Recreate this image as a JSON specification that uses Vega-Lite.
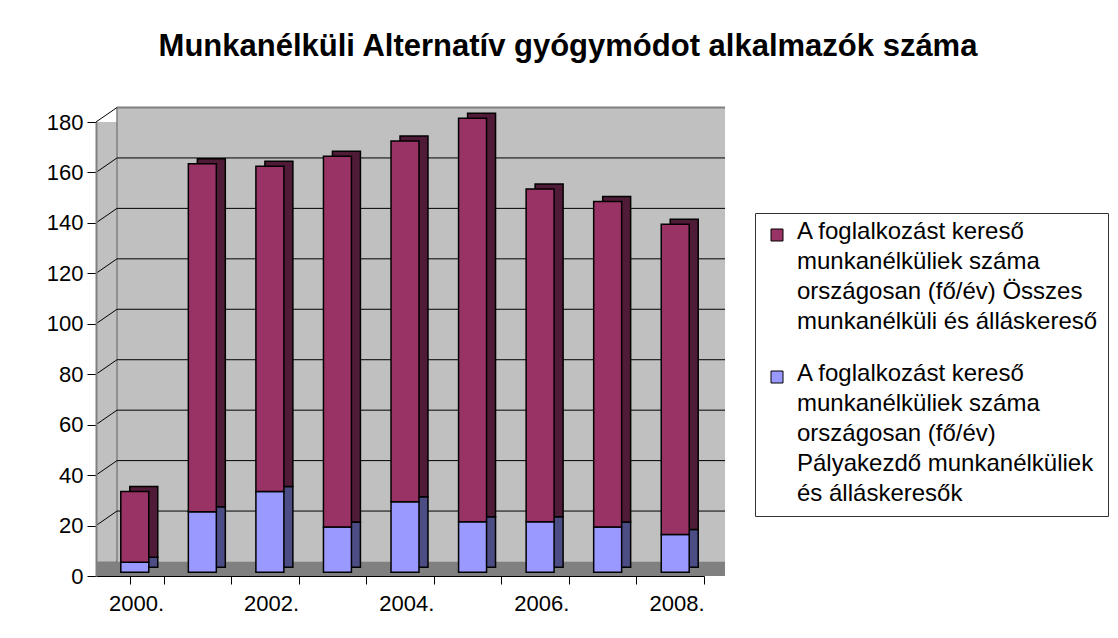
{
  "$schema": "https://vega.github.io/schema/vega-lite/v6.json",
  "width": 608,
  "height": 454,
  "autosize": {"type": "none"},
  "padding": {"left": 96, "top": 122, "right": 414, "bottom": 62},
  "background": "white",
  "config": {"font": "Liberation Sans", "view": {"stroke": null}},
  "title": {
    "text": "Munkanélküli Alternatív gyógymódot alkalmazók száma",
    "fontSize": 31,
    "fontWeight": "bold",
    "color": "#000000",
    "anchor": "middle",
    "frame": "group",
    "dx": 168,
    "offset": 44
  },
  "datasets": {
    "bars": [
      {"ev": "2000.", "series": "A foglalkozást kereső munkanélküliek száma országosan (fő/év) Pályakezdő munkanélküliek és álláskeresők", "value": 4},
      {"ev": "2000.", "series": "A foglalkozást kereső munkanélküliek száma országosan (fő/év) Összes munkanélküli és álláskereső", "value": 28},
      {"ev": "2001.", "series": "A foglalkozást kereső munkanélküliek száma országosan (fő/év) Pályakezdő munkanélküliek és álláskeresők", "value": 24},
      {"ev": "2001.", "series": "A foglalkozást kereső munkanélküliek száma országosan (fő/év) Összes munkanélküli és álláskereső", "value": 138},
      {"ev": "2002.", "series": "A foglalkozást kereső munkanélküliek száma országosan (fő/év) Pályakezdő munkanélküliek és álláskeresők", "value": 32},
      {"ev": "2002.", "series": "A foglalkozást kereső munkanélküliek száma országosan (fő/év) Összes munkanélküli és álláskereső", "value": 129},
      {"ev": "2003.", "series": "A foglalkozást kereső munkanélküliek száma országosan (fő/év) Pályakezdő munkanélküliek és álláskeresők", "value": 18},
      {"ev": "2003.", "series": "A foglalkozást kereső munkanélküliek száma országosan (fő/év) Összes munkanélküli és álláskereső", "value": 147},
      {"ev": "2004.", "series": "A foglalkozást kereső munkanélküliek száma országosan (fő/év) Pályakezdő munkanélküliek és álláskeresők", "value": 28},
      {"ev": "2004.", "series": "A foglalkozást kereső munkanélküliek száma országosan (fő/év) Összes munkanélküli és álláskereső", "value": 143},
      {"ev": "2005.", "series": "A foglalkozást kereső munkanélküliek száma országosan (fő/év) Pályakezdő munkanélküliek és álláskeresők", "value": 20},
      {"ev": "2005.", "series": "A foglalkozást kereső munkanélküliek száma országosan (fő/év) Összes munkanélküli és álláskereső", "value": 160},
      {"ev": "2006.", "series": "A foglalkozást kereső munkanélküliek száma országosan (fő/év) Pályakezdő munkanélküliek és álláskeresők", "value": 20},
      {"ev": "2006.", "series": "A foglalkozást kereső munkanélküliek száma országosan (fő/év) Összes munkanélküli és álláskereső", "value": 132},
      {"ev": "2007.", "series": "A foglalkozást kereső munkanélküliek száma országosan (fő/év) Pályakezdő munkanélküliek és álláskeresők", "value": 18},
      {"ev": "2007.", "series": "A foglalkozást kereső munkanélküliek száma országosan (fő/év) Összes munkanélküli és álláskereső", "value": 129},
      {"ev": "2008.", "series": "A foglalkozást kereső munkanélküliek száma országosan (fő/év) Pályakezdő munkanélküliek és álláskeresők", "value": 15},
      {"ev": "2008.", "series": "A foglalkozást kereső munkanélküliek száma országosan (fő/év) Összes munkanélküli és álláskereső", "value": 123}
    ],
    "grid": [{"v": 20}, {"v": 40}, {"v": 60}, {"v": 80}, {"v": 100}, {"v": 120}, {"v": 140}, {"v": 160}],
    "ticks": [{"v": 0}, {"v": 20}, {"v": 40}, {"v": 60}, {"v": 80}, {"v": 100}, {"v": 120}, {"v": 140}, {"v": 160}, {"v": 180}]
  },
  "layer": [
    {
      "data": {"values": [{}]},
      "mark": {"type": "rect", "fill": "#C0C0C0", "xOffset": 21, "x2Offset": 54.8, "yOffset": -14.5, "y2Offset": -14.5},
      "encoding": {
        "x": {"datum": "2000.", "type": "ordinal", "bandPosition": 0},
        "x2": {"datum": "2008."},
        "y": {"datum": 0, "type": "quantitative", "scale": {"domain": [0, 180], "nice": false, "zero": true}},
        "y2": {"datum": 180}
      }
    },
    {
      "data": {"values": [{}]},
      "mark": {"type": "rule", "color": "#C0C0C0", "strokeWidth": 21, "strokeCap": "butt", "xOffset": 10.5},
      "encoding": {
        "x": {"datum": "2000.", "type": "ordinal", "bandPosition": 0},
        "y": {"datum": 0, "type": "quantitative"},
        "y2": {"datum": 180}
      }
    },
    {
      "data": {"values": [{}]},
      "mark": {"type": "rule", "color": "#808080", "strokeWidth": 2, "xOffset": 21, "x2Offset": 54.8, "yOffset": -14.5, "y2Offset": -14.5},
      "encoding": {
        "x": {"datum": "2000.", "type": "ordinal", "bandPosition": 0},
        "x2": {"datum": "2008."},
        "y": {"datum": 180, "type": "quantitative"},
        "y2": {"datum": 180}
      }
    },
    {
      "data": {"values": [{}]},
      "mark": {"type": "rule", "color": "#808080", "strokeWidth": 1.5, "xOffset": 21, "yOffset": -14.5, "y2Offset": -14.5},
      "encoding": {
        "x": {"datum": "2000.", "type": "ordinal", "bandPosition": 0},
        "y": {"datum": 0, "type": "quantitative"},
        "y2": {"datum": 180}
      }
    },
    {
      "data": {"name": "grid"},
      "mark": {"type": "rule", "color": "#000000", "strokeWidth": 1, "xOffset": 21, "x2Offset": 54.8, "yOffset": -14.5, "y2Offset": -14.5},
      "encoding": {
        "x": {"datum": "2000.", "type": "ordinal", "bandPosition": 0},
        "x2": {"datum": "2008."},
        "y": {"field": "v", "type": "quantitative"},
        "y2": {"field": "v"}
      }
    },
    {
      "data": {"name": "ticks"},
      "mark": {"type": "rule", "color": "#000000", "strokeWidth": 1, "x2Offset": -12.78, "y2Offset": -14.5},
      "encoding": {
        "x": {"datum": "2000.", "type": "ordinal", "bandPosition": 0},
        "x2": {"datum": "2000."},
        "y": {"field": "v", "type": "quantitative"},
        "y2": {"field": "v"}
      }
    },
    {
      "data": {"values": [{}]},
      "mark": {"type": "rect", "fill": "#808080", "x2Offset": 54.8, "y2Offset": -14.5},
      "encoding": {
        "x": {"datum": "2000.", "type": "ordinal", "bandPosition": 0},
        "x2": {"datum": "2008."},
        "y": {"datum": 0, "type": "quantitative"},
        "y2": {"datum": 0}
      }
    },
    {
      "data": {"name": "bars"},
      "mark": {"type": "bar", "width": {"band": 0.414}, "stroke": "#000000", "strokeWidth": 1.5, "xOffset": 14, "yOffset": -8.7, "y2Offset": -8.7},
      "encoding": {
        "x": {"field": "ev", "type": "ordinal"},
        "y": {"field": "value", "type": "quantitative", "stack": "zero"},
        "detail": {"field": "series"},
        "order": {"field": "series", "sort": "ascending"},
        "fill": {
          "condition": {"test": "indexof(datum.series, 'Összes') >= 0", "value": "#4F1B36"},
          "value": "#4D4D85"
        }
      }
    },
    {
      "data": {"name": "bars"},
      "mark": {"type": "bar", "width": {"band": 0.414}, "stroke": "#000000", "strokeWidth": 1.5, "xOffset": 5, "yOffset": -3.7, "y2Offset": -3.7, "opacity": 1},
      "encoding": {
        "x": {
          "field": "ev",
          "type": "ordinal",
          "scale": {"paddingInner": 0, "paddingOuter": 0},
          "axis": {
            "title": null,
            "labelAngle": 0,
            "labelFontSize": 22,
            "labelColor": "#000000",
            "labelPadding": 19,
            "tickOffset": 33.78,
            "tickExtra": true,
            "tickSize": 8,
            "tickColor": "#000000",
            "domainColor": "#000000",
            "domainWidth": 1,
            "zindex": 1,
            "labelExpr": "indexof(['2000.', '2002.', '2004.', '2006.', '2008.'], datum.label) >= 0 ? datum.label : ''"
          }
        },
        "y": {
          "field": "value",
          "type": "quantitative",
          "stack": "zero",
          "axis": {
            "title": null,
            "values": [0, 20, 40, 60, 80, 100, 120, 140, 160, 180],
            "labelFontSize": 22,
            "labelColor": "#000000",
            "labelPadding": 4,
            "tickSize": 9,
            "tickColor": "#000000",
            "domainColor": "#808080",
            "domainWidth": 2,
            "grid": false,
            "zindex": 1
          }
        },
        "order": {"field": "series", "sort": "ascending"},
        "color": {
          "field": "series",
          "type": "nominal",
          "scale": {
            "domain": [
              "A foglalkozást kereső munkanélküliek száma országosan (fő/év) Összes munkanélküli és álláskereső",
              "A foglalkozást kereső munkanélküliek száma országosan (fő/év) Pályakezdő munkanélküliek és álláskeresők"
            ],
            "range": ["#993366", "#9999FF"]
          },
          "legend": {
            "title": null,
            "orient": "none",
            "legendX": 659,
            "legendY": 91,
            "padding": 10,
            "strokeColor": "#333333",
            "fillColor": "#FFFFFF",
            "symbolType": "square",
            "symbolSize": 144,
            "symbolStrokeColor": "#000000",
            "symbolStrokeWidth": 1,
            "symbolOpacity": 1,
            "labelFontSize": 24,
            "labelColor": "#000000",
            "labelLimit": 500,
            "labelOffset": 8,
            "labelBaseline": "top",
            "rowPadding": 28,
            "labelExpr": "indexof(datum.label, 'Összes') >= 0 ? ['A foglalkozást kereső', 'munkanélküliek száma', 'országosan (fő/év) Összes', 'munkanélküli és álláskereső'] : ['A foglalkozást kereső', 'munkanélküliek száma', 'országosan (fő/év)', 'Pályakezdő munkanélküliek', 'és álláskeresők']",
            "encode": {"labels": {"update": {"lineHeight": {"value": 30}, "dy": {"value": -15}}}}
          }
        }
      }
    }
  ]
}
